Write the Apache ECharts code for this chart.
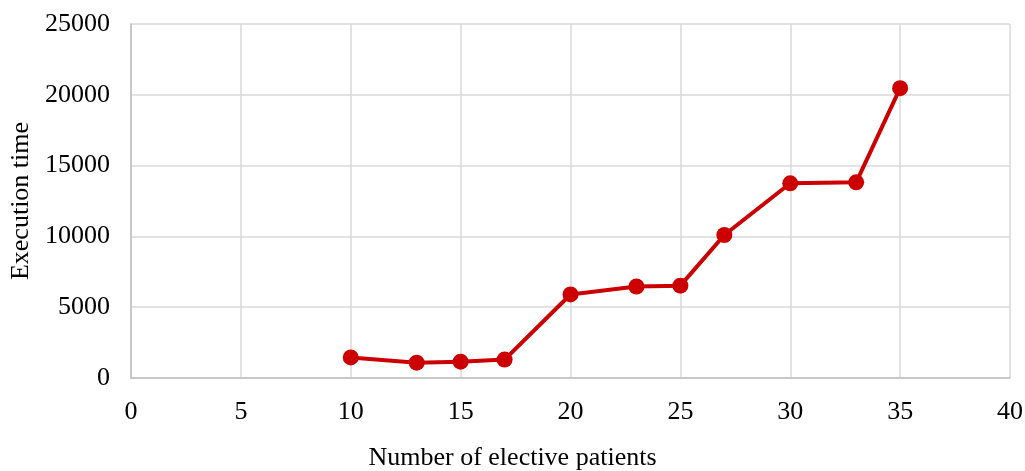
<!DOCTYPE html>
<html>
<head>
<meta charset="utf-8">
<script src="https://cdn.jsdelivr.net/npm/echarts@6/dist/echarts.min.js"></script>
<style>html,body{margin:0;padding:0;background:#fff;}#c{width:1025px;height:471px;}</style>
</head>
<body>
<div id="c"></div>
<script>
const patients = [10, 13, 15, 17, 20, 23, 25, 27, 30, 33, 35];
const execTime = [1450, 1080, 1150, 1300, 5900, 6460, 6520, 10100, 13750, 13820, 20470];
const xTitle = 'Number of elective patients';
const yTitle = 'Execution time';

const chart = echarts.init(document.getElementById('c'));
const font = 'Liberation Serif, Times New Roman, serif';
chart.setOption({
  animation: false,
  title: {
    text: xTitle, left: 'center', top: 445, padding: 0,
    textStyle: {fontFamily: font, fontSize: 26, fontWeight: 'normal', color: '#000'}
  },
  grid: {left: 131, right: 15, top: 24, bottom: 93, containLabel: false, outerBoundsMode: 'none'},
  xAxis: {
    type: 'value', min: 0, max: 40, interval: 5,
    axisLine: {show: true, lineStyle: {color: '#bfbfbf', width: 1.5}},
    axisTick: {show: false},
    axisLabel: {fontFamily: font, fontSize: 26, color: '#000', margin: 21},
    splitLine: {show: true, lineStyle: {color: '#d9d9d9', width: 1.5}}
  },
  yAxis: {
    type: 'value', min: 0, max: 25000, interval: 5000,
    name: yTitle, nameLocation: 'middle', nameGap: 95,
    nameTextStyle: {fontFamily: font, fontSize: 26, color: '#000'},
    axisLine: {show: true, lineStyle: {color: '#bfbfbf', width: 1.5}},
    axisTick: {show: false},
    axisLabel: {fontFamily: font, fontSize: 26, color: '#000', margin: 21, formatter: v => String(v)},
    splitLine: {show: true, lineStyle: {color: '#d9d9d9', width: 1.5}}
  },
  series: [{
    type: 'line',
    data: patients.map((p, i) => [p, execTime[i]]),
    symbol: 'circle', symbolSize: 16,
    lineStyle: {color: '#cc0000', width: 4},
    itemStyle: {color: '#cc0000'}
  }]
});
</script>
</body>
</html>
